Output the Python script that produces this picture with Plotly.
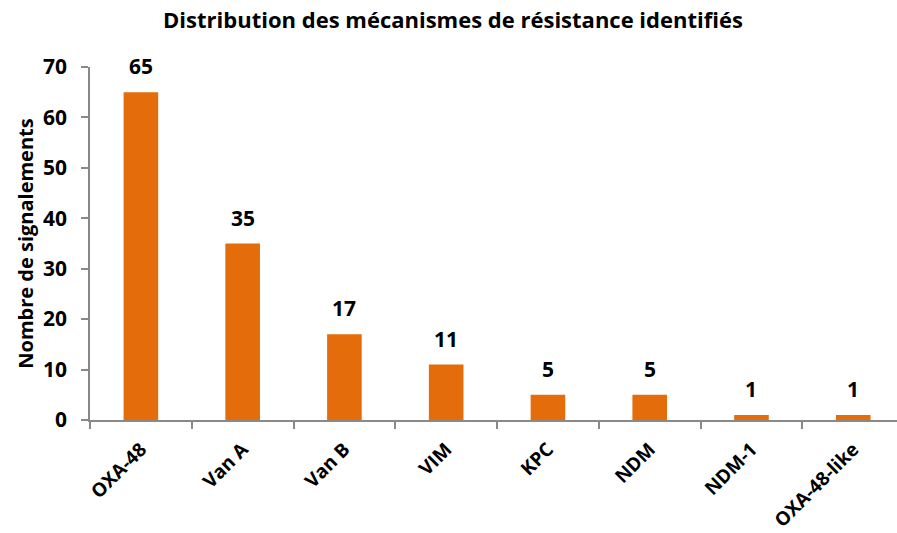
import plotly.graph_objects as go

categories = ["OXA-48", "Van A", "Van B", "VIM", "KPC", "NDM", "NDM-1", "OXA-48-like"]
values = [65, 35, 17, 11, 5, 5, 1, 1]

FONT = "Open Sans"
fig = go.Figure()
fig.add_trace(go.Bar(
    x=categories, y=values, width=0.34,
    marker=dict(color="#E46C0A", line=dict(width=0)),
    hoverinfo="skip",
))
for c, v in zip(categories, values):
    fig.add_annotation(x=c, y=v, text=f"<b>{v}</b>", showarrow=False,
                       yanchor="bottom", yshift=10,
                       font=dict(family=FONT, size=21, color="black"))

fig.update_layout(
    width=897, height=533,
    margin=dict(l=90, r=0, t=67, b=113),
    paper_bgcolor="white", plot_bgcolor="white",
    showlegend=False,
    title=dict(text="<b>Distribution des mécanismes de résistance identifiés</b>",
               x=0.505, xanchor="center", y=1 - 20 / 533, yanchor="middle",
               font=dict(family=FONT, size=22, color="black")),
    font=dict(family=FONT, color="black"),
)
fig.update_xaxes(
    type="category", range=[-0.5, 7.43], automargin=False,
    showline=True, linecolor="#898989", linewidth=1.5,
    ticks="outside", tickcolor="#898989", ticklen=7, tickwidth=1.5,
    tickson="boundaries", tickangle=-45, ticklabelstandoff=9,
    tickfont=dict(family=FONT, size=19, color="black"),
    ticktext=[f"<b>{c}</b>" for c in categories], tickvals=categories,
    showgrid=False,
)
fig.update_yaxes(
    range=[0, 70], dtick=10, automargin=False,
    showline=True, linecolor="#898989", linewidth=1.5,
    ticks="outside", tickcolor="#898989", ticklen=7, tickwidth=1.5,
    ticklabelstandoff=10,
    tickfont=dict(family=FONT, size=21, color="black"),
    tickprefix="<b>", ticksuffix="</b>",
    showgrid=False, zeroline=False,
    title=dict(text="<b>Nombre de signalements</b>", standoff=4,
               font=dict(family=FONT, size=20, color="black")),
)
fig.write_html("out.html", config={"displayModeBar": False},
               post_script="document.body.style.margin='0';")
